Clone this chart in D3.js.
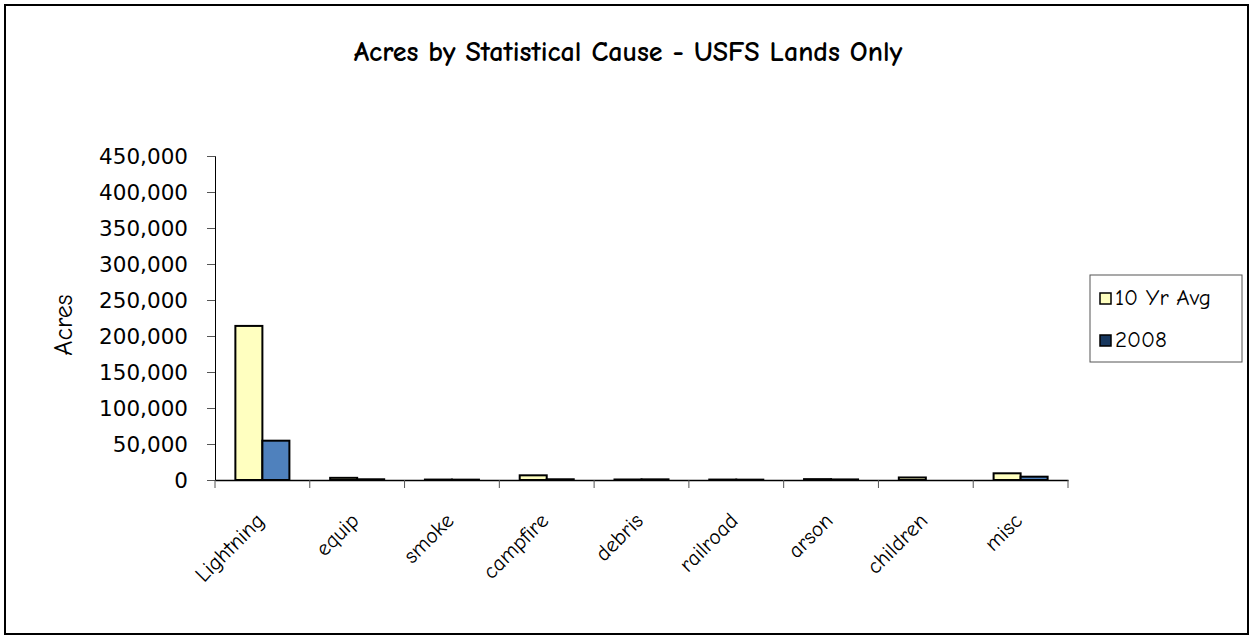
<!DOCTYPE html>
<html><head><meta charset="utf-8">
<script src="https://d3js.org/d3.v7.min.js"></script>
<style>body{margin:0;background:#fff}svg{display:block}</style>
</head><body><svg id="c" width="1253" height="639"></svg>
<script>
const categories = ["Lightning","equip","smoke","campfire","debris","railroad","arson","children","misc"];
const seriesNames = ["10 Yr Avg","2008"];
const avg10 = [214000, 3000, 600, 6500, 700, 600, 1200, 3500, 9300];
const y2008 = [54600, 1000, 500, 1000, 900, 500, 800, 0, 4600];
const yTicks = [0,50000,100000,150000,200000,250000,300000,350000,400000,450000];

const svg = d3.select("#c");
const comic = "'Comic Sans MS','Comic Neue','DejaVu Sans',sans-serif";
const tickFont = "'DejaVu Sans',Verdana,sans-serif";

svg.append("rect").attr("x",5).attr("y",5).attr("width",1243).attr("height",629)
  .attr("fill","#fff").attr("stroke","#000").attr("stroke-width",2);

const L=215, R=1068, T=156, B=480;
const x = d3.scaleBand().domain(categories).range([L,R]).paddingInner(0.43).paddingOuter(0.215);
const xs = d3.scaleBand().domain(seriesNames).range([0,x.bandwidth()]);
const y = d3.scaleLinear().domain([0,450000]).range([B,T]);

svg.append("text").attr("x",628).attr("y",61).attr("text-anchor","middle")
  .attr("font-family",comic).attr("font-weight","bold").attr("font-size",28).text("Acres by Statistical Cause - USFS Lands Only");

const colors = {"10 Yr Avg":"#FFFFC0","2008":"#4F81BD"};
const data = categories.map((c,i)=>({c, vals:[{s:"10 Yr Avg",v:avg10[i]},{s:"2008",v:y2008[i]}]}));
const g = svg.append("g");
data.forEach(d=>{
  d.vals.forEach(e=>{
    if(e.v<=0) return;
    g.append("rect").attr("x",x(d.c)+xs(e.s)).attr("y",y(e.v))
      .attr("width",xs.bandwidth()).attr("height",B-y(e.v))
      .attr("fill",colors[e.s]).attr("stroke","#000").attr("stroke-width",2);
  });
});

// y axis
const ya = svg.append("g").attr("transform",`translate(${L},0)`)
  .call(d3.axisLeft(y).tickValues(yTicks).tickSize(8).tickPadding(19).tickFormat(d3.format(",")));
ya.select(".domain").attr("stroke","#000");
ya.selectAll("text").attr("font-family",tickFont).attr("font-size",21.5).attr("fill","#000").attr("dy","0.35em");
ya.selectAll(".tick line").attr("stroke","#555");

// x axis line and ticks at category boundaries
const xa = svg.append("g").attr("transform",`translate(0,${B})`)
  .call(d3.axisBottom(x).tickSize(0).tickFormat(""));
xa.select(".domain").attr("stroke","#000").attr("stroke-width",1.3);
const step = x.step();
const bounds = d3.range(categories.length+1).map(i=>L+i*step);
svg.selectAll(".xb").data(bounds).enter().append("line")
  .attr("x1",d=>d).attr("x2",d=>d).attr("y1",B).attr("y2",B+8).attr("stroke","#555");

// category labels
svg.selectAll(".cl").data(categories).enter().append("text")
  .attr("transform",d=>`translate(${x(d)+x.bandwidth()/2+3},${B+42}) rotate(-45)`)
  .attr("text-anchor","end").attr("font-family",comic).attr("font-size",22).attr("fill","#000").text(d=>d);

// y title
svg.append("text").attr("transform","translate(72,325) rotate(-90)").attr("text-anchor","middle")
  .attr("font-family",comic).attr("font-size",26).text("Acres");

// legend
const lg = svg.append("g");
lg.append("rect").attr("x",1090).attr("y",275).attr("width",152).attr("height",87).attr("fill","#fff").attr("stroke","#555").attr("stroke-width",1);
const legColors = ["#FFFFC0","#17375E"];
seriesNames.forEach((s,i)=>{
  const yy = 305 + i*42;
  lg.append("rect").attr("x",1100).attr("y",yy-12).attr("width",11).attr("height",11).attr("fill",legColors[i]).attr("stroke","#000").attr("stroke-width",1.5);
  lg.append("text").attr("x",1115).attr("y",yy).attr("font-family",comic).attr("font-size",23).text(s);
});
</script></body></html>
